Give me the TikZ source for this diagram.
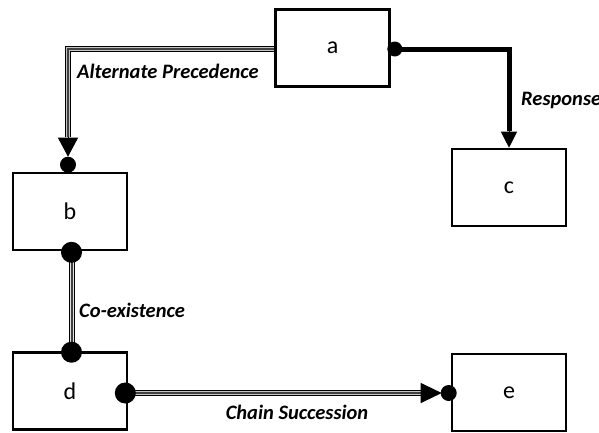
\documentclass[tikz,border=0pt]{standalone}
\usepackage{fontspec}
\setmainfont{Carlito}
\usetikzlibrary{arrows.meta,calc}

\tikzset{
  box/.style={draw=black, line width=2.6pt, fill=white, minimum width=114pt,
    minimum height=77pt, inner sep=0pt, font=\fontsize{24}{28}\selectfont},
  rel/.style={font=\fontsize{20.5}{24}\selectfont\bfseries\itshape, inner sep=0pt},
  tripleline/.style={draw=black, line width=6.6pt, line join=miter,
    postaction={draw=gray!45, line width=4pt},
    postaction={draw=gray!50!black, line width=1.4pt}},
  coexline/.style={draw=black, line width=6.2pt,
    postaction={draw=white!75!gray, line width=3.8pt},
    postaction={draw=gray!50!black, line width=1.5pt}},
  boldline/.style={draw=black, line width=5pt, line join=miter},
  dot/.style={fill=black},
}

\begin{document}
\begin{tikzpicture}[x=1pt, y=-1pt]
  \useasboundingbox[fill=white] (0,0) rectangle (599,432);

  % activity boxes
  \node[box] (a) at (332.5,48) {a};
  \node[box] (c) at (509,187.5) {c};
  \node[box] (b) at (70,211.5) {b};
  \node[box] (d) at (70,391) {d};
  \node[box] (e) at (509,392.5) {e};

  % Response: a --> c
  \coordinate (rsp0) at ($(a.east)+(0,1)$);
  \coordinate (rsp1) at ($(c.north)+(0,-17)$);
  \draw[boldline] (rsp0) -| (rsp1);
  \draw[-{Triangle[length=16pt,width=16pt]}, line width=1pt] (rsp1) -- (c.north);
  \fill[dot] ($(a.east)+(4,1)$) circle[radius=7.5];

  % Alternate Precedence: a ==> b
  \coordinate (ap0) at ($(a.west)+(0,1)$);
  \coordinate (ap1) at ($(b.north)+(-2,-35)$);
  \coordinate (ap2) at ($(b.north)+(-2,-15)$);
  \draw[tripleline] (ap0) -| (ap1);
  \draw[-{Triangle[length=19pt,width=20pt]}, line width=1pt] (ap1) -- (ap2);
  \fill[dot] ($(b.north)+(-2,-7)$) circle[radius=8];

  % Co-existence: b == d
  \coordinate (co0) at ($(b.south)+(2,0)$);
  \coordinate (co1) at ($(d.north)+(2,0)$);
  \draw[coexline] (co0) -- (co1);
  \fill[dot] ($(b.south)+(1.5,1)$) circle[radius=10.5];
  \fill[dot] ($(d.north)+(1.5,1)$) circle[radius=10.5];

  % Chain Succession: d ==> e
  \coordinate (cs0) at ($(d.east)+(0,2)$);
  \coordinate (cs1) at ($(e.west)+(-30,0.5)$);
  \coordinate (cs2) at ($(e.west)+(-9,0.5)$);
  \draw[tripleline] (cs0) -- (cs1);
  \draw[-{Triangle[length=21pt,width=20pt]}, line width=1pt] (cs1) -- (cs2);
  \fill[dot] ($(d.east)+(-3,2)$) circle[radius=10.5];
  \fill[dot] ($(e.west)+(-2,0.5)$) circle[radius=8];

  % relation labels
  \node[rel, anchor=west] (lap) at (77,71) {Alternate Precedence};
  \node[rel, anchor=west] (lrsp) at (521,100) {Response};
  \node[rel, anchor=west] (lco) at (79,310) {Co-existence};
  \node[rel] (lcs) at (297,412) {Chain Succession};
\end{tikzpicture}
\end{document}
